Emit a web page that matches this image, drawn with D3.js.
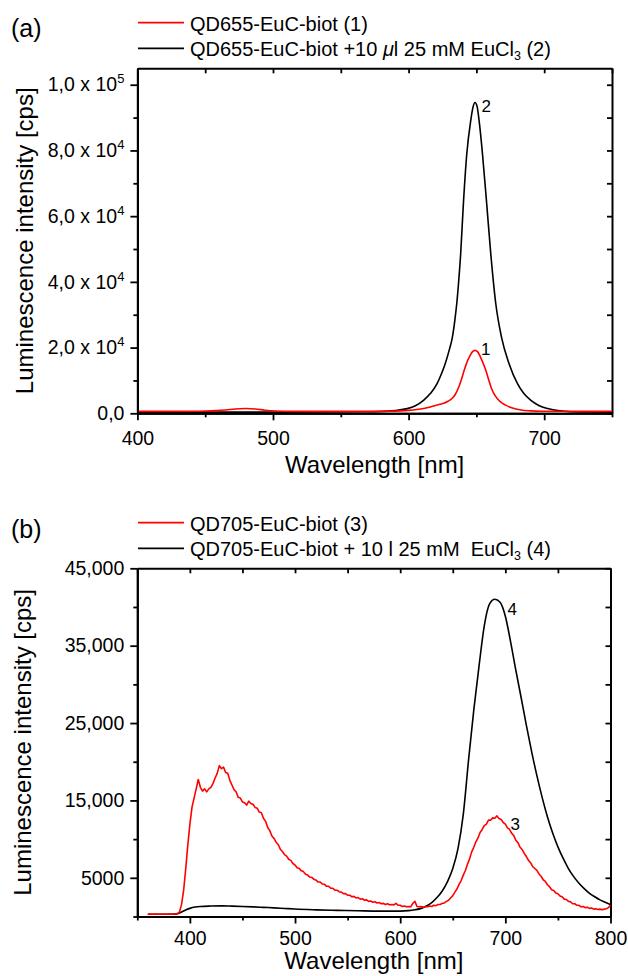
<!DOCTYPE html>
<html><head><meta charset="utf-8">
<script src="https://cdn.jsdelivr.net/npm/d3@7"></script>
<style>
body{margin:0;background:#fff}
svg text{font-family:"Liberation Sans", Arial, Helvetica, sans-serif; fill:#000}
</style>
</head><body>
<svg id="c" width="628" height="976"></svg>
<script>
// ---------------- DATA ----------------
// Panel (a): wavelength [nm], intensity [cps]
const specA1 = [[400,600],[420,600],[440,620],[450,680],[458,800],[465,1000],[472,1300],[480,1450],[487,1300],[494,950],[502,700],[515,600],[540,580],[570,600],[585,650],[594,750],[600,900],[606,1150],[611,1450],[616,1900],[620,2400],[623,2750],[626,3050],[629,3650],[632,4500],[634.5,5800],[637,8000],[639,10400],[641,13070],[643,15500],[645,17300],[647,18700],[649,19150],[651,18700],[653,17100],[655,15200],[657,13000],[659,10300],[661,7700],[663,5900],[665.5,4450],[668,3400],[671.5,2500],[676,1700],[683,1000],[690,750],[698,620],[720,600],[750,600]];
const specA2 = [[400,350],[450,350],[500,350],[540,380],[565,450],[580,550],[590,850],[599,1420],[605,2300],[611,3950],[616,6000],[621,9000],[624,11800],[627,15100],[630,19300],[632.3,23200],[634,28000],[635.5,33340],[637,40500],[638.4,48540],[640.4,63740],[642.9,78900],[645.8,89060],[647.5,93200],[649,94600],[650.5,93400],[652,89060],[654.5,78900],[657.6,63740],[660.6,48540],[664.3,33340],[668.5,23200],[674.1,15100],[680.3,9000],[685,6000],[690.2,3950],[696,2400],[702.5,1450],[710,850],[717.3,550],[730,400],[750,350]];
// Panel (b)
const specB3 = [[360,300],[362,310],[364,290],[366,300],[368,305],[370,295],[372,300],[374,310],[376,300],[378,290],[380,305],[382,300],[384,310],[386,320],[388,380],[390,550],[392,1500],[394,3300],[396,6100],[398,9200],[400,11900],[402,14100],[404,15300],[406,16500],[408,17700],[410,16700],[412,16200],[414,16500],[416,16100],[418,16500],[420,16700],[422,17200],[424,17900],[426,18500],[428,19500],[430,19100],[432,19300],[434,18600],[436,18500],[438,17600],[440,17000],[442,16400],[444,16100],[446,15400],[448,15300],[450,14800],[452,14700],[454,14400],[456,14900],[458,14600],[460,14500],[462,14100],[464,14000],[466,13500],[468,13400],[470,12700],[472,12300],[474,11500],[476,11100],[478,10400],[480,10100],[482,9600],[484,9300],[486,8700],[488,8400],[490,8000],[492,7800],[494,7400],[496,7250],[498,6850],[500,6650],[502,6300],[504,6200],[506,5900],[508,5800],[510,5450],[512,5350],[514,5100],[516,5050],[518,4800],[520,4700],[522,4450],[524,4450],[526,4200],[528,4150],[530,3900],[532,3900],[534,3650],[536,3650],[538,3400],[540,3400],[542,3200],[544,3150],[546,2950],[548,2950],[550,2750],[552,2750],[554,2550],[556,2600],[558,2400],[560,2450],[562,2250],[564,2300],[566,2100],[568,2150],[570,1950],[572,2000],[574,1850],[576,1900],[578,1750],[580,1800],[582,1650],[584,1700],[586,1550],[588,1650],[590,1500],[592,1550],[594,1500],[596,1700],[598,1450],[600,1450],[602,1300],[604,1350],[606,1250],[608,1300],[610,1250],[612,1700],[614,1950],[616,1300],[618,1250],[620,1300],[622,1200],[624,1300],[626,1250],[628,1350],[630,1300],[632,1450],[634,1400],[636,1550],[638,1550],[640,1700],[642,1750],[644,1950],[646,2100],[648,2400],[650,2700],[652,3150],[654,3550],[656,4150],[658,4650],[660,5350],[662,5950],[664,6750],[666,7450],[668,8350],[670,8950],[672,9650],[674,10150],[676,10850],[678,11250],[680,11750],[682,11950],[684,12450],[686,12450],[688,12750],[690,12700],[692,13000],[694,12650],[696,12550],[698,12150],[700,11950],[702,11450],[704,11250],[706,10750],[708,10450],[710,9850],[712,9550],[714,8950],[716,8650],[718,8150],[720,7750],[722,7250],[724,6950],[726,6450],[728,6200],[730,5950],[732,5500],[734,5200],[736,4750],[738,4550],[740,4100],[742,3850],[744,3450],[746,3350],[748,3050],[750,2950],[752,2650],[754,2550],[756,2250],[758,2200],[760,1950],[762,1900],[764,1650],[766,1650],[768,1450],[770,1450],[772,1250],[774,1300],[776,1150],[778,1200],[780,1050],[782,1100],[784,950],[786,1000],[788,900],[790,950],[792,880],[794,950],[796,1000],[798,1150],[800,1450]];
const specB4 = [[360,300],[370,300],[380,300],[386,310],[390,450],[395,780],[400,1050],[405,1220],[410,1300],[420,1350],[430,1370],[440,1340],[450,1300],[460,1250],[470,1180],[480,1120],[490,1040],[500,960],[520,860],[540,790],[560,740],[580,700],[600,700],[608,760],[614,870],[620,1050],[625,1350],[630,1800],[635,2450],[640,3300],[645,4500],[650,6200],[655,8800],[660,13200],[665,20200],[670,26700],[675,32400],[680,37600],[685,40400],[690,41000],[695,40600],[700,38800],[705,35500],[710,31800],[715,28300],[720,24700],[725,21300],[730,18200],[735,15400],[740,12900],[745,10800],[750,9000],[755,7500],[760,6200],[765,5150],[770,4300],[775,3600],[780,3000],[785,2550],[790,2150],[795,1850],[800,1550]];

// Ticks and labels
const xMajorA = [400,500,600,700], xMinorA = [450,550,650,750], xTopA = [400,450,500,550,600,650,700,750];
const yMajorA = [0,20000,40000,60000,80000,100000], yMinorA = [10000,30000,50000,70000,90000];
const yMantA = ["0,0","2,0","4,0","6,0","8,0","1,0"], yExpA = ["","4","4","4","4","5"];
const xMajorB = [400,500,600,700,800], xMinorB = [350,450,550,650,750], xTopB = [350,400,450,500,550,600,650,700,750,800];
const yMajorB = [5000,15000,25000,35000,45000], yMinorB = [0,10000,20000,30000,40000];
const yLabelB = ["5000","15,000","25,000","35,000","45,000"];

// Curve number labels [wavelength, intensity, text]
const labelsA = [[653.8,91800,"2"],[653.4,17700,"1"]];
const labelsB = [[702.0,38960,"4"],[704.9,11180,"3"]];

// ---------------- DRAW ----------------
const svg = d3.select("#c");

function styleAxis(g){
  g.select(".domain").attr("stroke","#000").attr("stroke-width",2);
  g.selectAll(".tick line").attr("stroke","#000").attr("stroke-width",1.8);
}

function panel(o){
  const x = d3.scaleLinear(o.xDomain, o.xRange);
  const y = d3.scaleLinear(o.yDomain, o.yRange);
  const [xl, xr] = o.xRange, [yb, yt] = o.yRange;
  const g = svg.append("g");

  g.append("g").attr("transform",`translate(0,${yt})`)
    .call(d3.axisTop(x).tickValues(o.xTop).tickSize(-5).tickSizeOuter(0).tickFormat(""))
    .call(styleAxis);
  g.append("g").attr("transform",`translate(${xr},0)`)
    .call(d3.axisRight(y).tickValues(o.yRight).tickSize(-5).tickSizeOuter(0).tickFormat(""))
    .call(styleAxis);

  const line = (c)=> d3.line().x(d=>x(d[0])).y(d=>y(d[1])).curve(c);
  o.series.forEach(s=>{
    g.append("path").datum(s.data).attr("fill","none").attr("stroke",s.color)
      .attr("stroke-width",1.6).attr("stroke-linejoin","round")
      .attr("d", line(s.curve)(s.data));
  });

  const gb = g.append("g").attr("transform",`translate(0,${yb})`)
    .call(d3.axisBottom(x).tickValues(o.xMajor).tickSize(7).tickSizeOuter(0).tickPadding(o.xPad).tickFormat(d=>d))
    .call(styleAxis);
  gb.selectAll(".tick text").attr("font-size",19.5).attr("font-family",null);
  g.append("g").attr("transform",`translate(0,${yb})`)
    .call(d3.axisBottom(x).tickValues(o.xMinor).tickSize(4).tickSizeOuter(0).tickFormat(""))
    .call(styleAxis);

  const gl = g.append("g").attr("transform",`translate(${xl},0)`)
    .call(d3.axisLeft(y).tickValues(o.yMajor).tickSize(7).tickSizeOuter(0).tickPadding(6).tickFormat(""))
    .call(styleAxis);
  gl.selectAll(".tick text").each(function(d,i){
    const t = d3.select(this).attr("font-size",19.5).attr("font-family",null);
    o.yLabel(t, i);
  });
  g.append("g").attr("transform",`translate(${xl},0)`)
    .call(d3.axisLeft(y).tickValues(o.yMinor).tickSize(4).tickSizeOuter(0).tickFormat(""))
    .call(styleAxis);

  o.labels.forEach(l=>{
    g.append("text").attr("x",x(l[0])).attr("y",y(l[1])).attr("font-size",17).text(l[2]);
  });

  g.append("text").attr("x",(xl+xr)/2).attr("y",o.xTitleY).attr("text-anchor","middle")
    .attr("font-size",24).text("Wavelength [nm]");
  g.append("text").attr("transform",`translate(${o.yTitleX},${(yb+yt)/2}) rotate(-90)`)
    .attr("text-anchor","middle").attr("font-size",24).text("Luminescence intensity [cps]");

  g.append("text").attr("x",11).attr("y",o.letterY).attr("font-size",25).text(o.letter);

  o.legend.forEach((L,i)=>{
    g.append("line").attr("x1",138).attr("x2",184).attr("y1",L.y).attr("y2",L.y)
      .attr("stroke",L.color).attr("stroke-width",1.8);
    const t = g.append("text").attr("x",190).attr("y",L.y+7.8).attr("font-size",20)
      .style("white-space","pre");
    L.parts.forEach(p=>{
      const ts = t.append("tspan").text(p.t);
      if(p.sub){ ts.attr("font-size",12.5).attr("dy",4); }
      if(p.after){ ts.attr("dy",-4); }
      if(p.it){ ts.attr("font-style","italic"); }
    });
  });
}

panel({
  xDomain:[400,750], xRange:[137.4,612],
  yDomain:[0,105000], yRange:[413.3,68.3],
  xMajor:xMajorA, xMinor:xMinorA, xTop:xTopA,
  yMajor:yMajorA, yMinor:yMinorA, yRight:d3.merge([yMajorA,yMinorA]),
  xPad:10.8, xTitleY:473, yTitleX:33,
  yLabel:(t,i)=>{
    if(!yExpA[i]){ t.text(yMantA[i]); return; }
    t.text(null);
    t.append("tspan").text(yMantA[i]+" x 10");
    t.append("tspan").attr("font-size",13).attr("dy","-0.62em").text(yExpA[i]);
  },
  series:[
    {data:specA2, color:"#000", curve:d3.curveMonotoneX},
    {data:specA1, color:"#ff0000", curve:d3.curveMonotoneX}
  ],
  labels:labelsA,
  letter:"(a)", letterY:36.5,
  legend:[
    {y:22.7, color:"#ff0000", parts:[{t:"QD655-EuC-biot (1)"}]},
    {y:48.3, color:"#000", parts:[{t:"QD655-EuC-biot +10 "},{t:"\u03bc",it:true},{t:"l 25 mM EuCl"},{t:"3",sub:true},{t:" (2)",after:true}]}
  ]
});

panel({
  xDomain:[350,800], xRange:[137.3,610.5],
  yDomain:[0,45000], yRange:[916.5,568.3],
  xMajor:xMajorB, xMinor:xMinorB, xTop:xTopB,
  yMajor:yMajorB, yMinor:yMinorB, yRight:d3.merge([yMajorB,yMinorB]),
  xPad:7.6, xTitleY:969, yTitleX:31,
  yLabel:(t,i)=>{ t.text(yLabelB[i]); },
  series:[
    {data:specB4, color:"#000", curve:d3.curveMonotoneX},
    {data:specB3, color:"#ff0000", curve:d3.curveLinear}
  ],
  labels:labelsB,
  letter:"(b)", letterY:538,
  legend:[
    {y:522.7, color:"#ff0000", parts:[{t:"QD705-EuC-biot (3)"}]},
    {y:548.3, color:"#000", parts:[{t:"QD705-EuC-biot + 10 l 25 mM  EuCl"},{t:"3",sub:true},{t:" (4)",after:true}]}
  ]
});
</script>
</body></html>
